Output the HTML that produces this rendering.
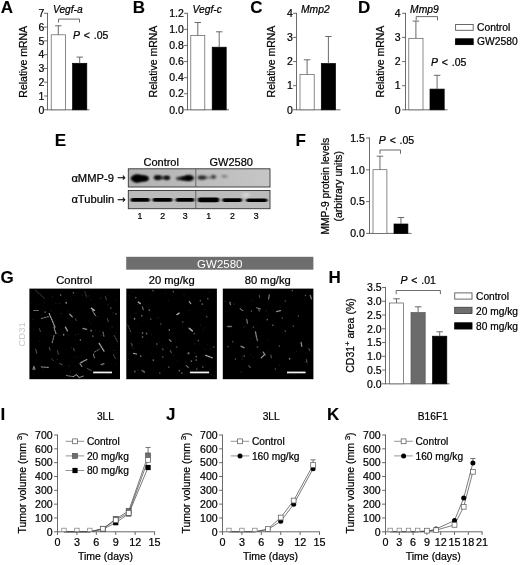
<!DOCTYPE html>
<html lang="en"><head><meta charset="utf-8"><title>Figure</title>
<style>html,body{margin:0;padding:0;background:#fff}svg{display:block}text{font-family:"Liberation Sans",Arial,Helvetica,sans-serif;stroke:#000;stroke-width:.22px}text[font-weight=bold]{stroke-width:.1px}text[fill]{stroke:none}</style></head><body>
<svg width="520" height="565" viewBox="0 0 520 565">
<defs><filter id="b1" x="-30%" y="-80%" width="160%" height="260%"><feGaussianBlur stdDeviation="1.1 0.9"/></filter><filter id="b2" x="-30%" y="-80%" width="160%" height="260%"><feGaussianBlur stdDeviation="1.6 1.2"/></filter><filter id="b3" x="-30%" y="-100%" width="160%" height="300%"><feGaussianBlur stdDeviation="1.0 0.7"/></filter><linearGradient id="g1" x1="0" x2="1" y1="0" y2="0"><stop offset="0" stop-color="#b2b2b2"/><stop offset="0.5" stop-color="#bcbcbc"/><stop offset="1" stop-color="#c6c6c6"/></linearGradient><filter id="s1" x="-50%" y="-50%" width="200%" height="200%"><feGaussianBlur stdDeviation="0.7"/></filter></defs>
<rect width="520" height="565" fill="#fff"/>
<g transform="translate(0,0.3)">
<text x="0.8" y="12.9" font-size="17" font-weight="bold" >A</text>
<text transform="translate(26.98,61.5) rotate(-90)" font-size="10.5" text-anchor="middle">Relative mRNA</text>
<line x1="47.5" y1="12.55" x2="47.5" y2="109.95" stroke="#5a5a5a" stroke-width="0.9" />
<line x1="44.1" y1="109.5" x2="47.5" y2="109.5" stroke="#5a5a5a" stroke-width="0.9" />
<text x="44.3" y="113.28" font-size="10.5" text-anchor="end" >0</text>
<line x1="44.1" y1="95.71" x2="47.5" y2="95.71" stroke="#5a5a5a" stroke-width="0.9" />
<text x="44.3" y="99.49" font-size="10.5" text-anchor="end" >1</text>
<line x1="44.1" y1="81.93" x2="47.5" y2="81.93" stroke="#5a5a5a" stroke-width="0.9" />
<text x="44.3" y="85.71" font-size="10.5" text-anchor="end" >2</text>
<line x1="44.1" y1="68.14" x2="47.5" y2="68.14" stroke="#5a5a5a" stroke-width="0.9" />
<text x="44.3" y="71.92" font-size="10.5" text-anchor="end" >3</text>
<line x1="44.1" y1="54.36" x2="47.5" y2="54.36" stroke="#5a5a5a" stroke-width="0.9" />
<text x="44.3" y="58.14" font-size="10.5" text-anchor="end" >4</text>
<line x1="44.1" y1="40.57" x2="47.5" y2="40.57" stroke="#5a5a5a" stroke-width="0.9" />
<text x="44.3" y="44.35" font-size="10.5" text-anchor="end" >5</text>
<line x1="44.1" y1="26.79" x2="47.5" y2="26.79" stroke="#5a5a5a" stroke-width="0.9" />
<text x="44.3" y="30.57" font-size="10.5" text-anchor="end" >6</text>
<line x1="44.1" y1="13" x2="47.5" y2="13" stroke="#5a5a5a" stroke-width="0.9" />
<text x="44.3" y="16.78" font-size="10.5" text-anchor="end" >7</text>
<line x1="47.5" y1="109.5" x2="89.5" y2="109.5" stroke="#5a5a5a" stroke-width="0.9" />
<rect x="51.2" y="34.5" width="14.2" height="75" fill="#fff" stroke="#5a5a5a" stroke-width="0.7"/>
<line x1="58.3" y1="25.5" x2="58.3" y2="34.5" stroke="#5a5a5a" stroke-width="0.9" />
<line x1="55.05" y1="25.5" x2="61.55" y2="25.5" stroke="#5a5a5a" stroke-width="0.9" />
<rect x="72.6" y="63" width="14.2" height="46.5" fill="#000" stroke="#000" stroke-width="0.7"/>
<line x1="79.7" y1="56.8" x2="79.7" y2="63" stroke="#5a5a5a" stroke-width="0.9" />
<line x1="76.45" y1="56.8" x2="82.95" y2="56.8" stroke="#5a5a5a" stroke-width="0.9" />
<text x="53" y="12.8" font-size="10.2" font-style="italic" >Vegf-a</text>
<polyline points="58.5,22.2 58.5,18.8 79.5,18.8 79.5,22.2" fill="none" stroke="#5a5a5a" stroke-width="0.9"/>
<text x="73" y="38.8" font-size="10.5" word-spacing="0.9"><tspan font-style="italic">P</tspan> &lt; .05</text>
<text x="132.8" y="12.8" font-size="17" font-weight="bold" >B</text>
<text transform="translate(156.98,61.2) rotate(-90)" font-size="10.5" text-anchor="middle">Relative mRNA</text>
<line x1="187.5" y1="12.55" x2="187.5" y2="109.95" stroke="#5a5a5a" stroke-width="0.9" />
<line x1="184.1" y1="109.5" x2="187.5" y2="109.5" stroke="#5a5a5a" stroke-width="0.9" />
<text x="183.8" y="113.28" font-size="10.5" text-anchor="end" >0.0</text>
<line x1="184.1" y1="93.42" x2="187.5" y2="93.42" stroke="#5a5a5a" stroke-width="0.9" />
<text x="183.8" y="97.2" font-size="10.5" text-anchor="end" >0.2</text>
<line x1="184.1" y1="77.33" x2="187.5" y2="77.33" stroke="#5a5a5a" stroke-width="0.9" />
<text x="183.8" y="81.11" font-size="10.5" text-anchor="end" >0.4</text>
<line x1="184.1" y1="61.25" x2="187.5" y2="61.25" stroke="#5a5a5a" stroke-width="0.9" />
<text x="183.8" y="65.03" font-size="10.5" text-anchor="end" >0.6</text>
<line x1="184.1" y1="45.17" x2="187.5" y2="45.17" stroke="#5a5a5a" stroke-width="0.9" />
<text x="183.8" y="48.95" font-size="10.5" text-anchor="end" >0.8</text>
<line x1="184.1" y1="29.08" x2="187.5" y2="29.08" stroke="#5a5a5a" stroke-width="0.9" />
<text x="183.8" y="32.86" font-size="10.5" text-anchor="end" >1.0</text>
<line x1="184.1" y1="13" x2="187.5" y2="13" stroke="#5a5a5a" stroke-width="0.9" />
<text x="183.8" y="16.78" font-size="10.5" text-anchor="end" >1.2</text>
<line x1="187.5" y1="109.5" x2="229" y2="109.5" stroke="#5a5a5a" stroke-width="0.9" />
<rect x="190.8" y="35.2" width="14" height="74.3" fill="#fff" stroke="#5a5a5a" stroke-width="0.7"/>
<line x1="197.8" y1="22.2" x2="197.8" y2="35.2" stroke="#5a5a5a" stroke-width="0.9" />
<line x1="194.55" y1="22.2" x2="201.05" y2="22.2" stroke="#5a5a5a" stroke-width="0.9" />
<rect x="212.2" y="46.9" width="14" height="62.6" fill="#000" stroke="#000" stroke-width="0.7"/>
<line x1="219.2" y1="31.5" x2="219.2" y2="46.9" stroke="#5a5a5a" stroke-width="0.9" />
<line x1="215.95" y1="31.5" x2="222.45" y2="31.5" stroke="#5a5a5a" stroke-width="0.9" />
<text x="192.5" y="12.5" font-size="10.3" font-style="italic" >Vegf-c</text>
<text x="250.2" y="12.8" font-size="17" font-weight="bold" >C</text>
<text transform="translate(274.58,61.2) rotate(-90)" font-size="10.5" text-anchor="middle">Relative mRNA</text>
<line x1="296.5" y1="12.55" x2="296.5" y2="109.95" stroke="#5a5a5a" stroke-width="0.9" />
<line x1="293.1" y1="109.5" x2="296.5" y2="109.5" stroke="#5a5a5a" stroke-width="0.9" />
<text x="292.9" y="113.28" font-size="10.5" text-anchor="end" >0</text>
<line x1="293.1" y1="85.38" x2="296.5" y2="85.38" stroke="#5a5a5a" stroke-width="0.9" />
<text x="292.9" y="89.16" font-size="10.5" text-anchor="end" >1</text>
<line x1="293.1" y1="61.25" x2="296.5" y2="61.25" stroke="#5a5a5a" stroke-width="0.9" />
<text x="292.9" y="65.03" font-size="10.5" text-anchor="end" >2</text>
<line x1="293.1" y1="37.12" x2="296.5" y2="37.12" stroke="#5a5a5a" stroke-width="0.9" />
<text x="292.9" y="40.91" font-size="10.5" text-anchor="end" >3</text>
<line x1="293.1" y1="13" x2="296.5" y2="13" stroke="#5a5a5a" stroke-width="0.9" />
<text x="292.9" y="16.78" font-size="10.5" text-anchor="end" >4</text>
<line x1="296.5" y1="109.5" x2="340.5" y2="109.5" stroke="#5a5a5a" stroke-width="0.9" />
<rect x="300" y="74.2" width="14.2" height="35.3" fill="#fff" stroke="#5a5a5a" stroke-width="0.7"/>
<line x1="307.1" y1="59.5" x2="307.1" y2="74.2" stroke="#5a5a5a" stroke-width="0.9" />
<line x1="303.85" y1="59.5" x2="310.35" y2="59.5" stroke="#5a5a5a" stroke-width="0.9" />
<rect x="321.3" y="63.2" width="14.2" height="46.3" fill="#000" stroke="#000" stroke-width="0.7"/>
<line x1="328.4" y1="36.2" x2="328.4" y2="63.2" stroke="#5a5a5a" stroke-width="0.9" />
<line x1="325.15" y1="36.2" x2="331.65" y2="36.2" stroke="#5a5a5a" stroke-width="0.9" />
<text x="301" y="12.6" font-size="10.3" font-style="italic" >Mmp2</text>
<text x="358.1" y="12.8" font-size="17" font-weight="bold" >D</text>
<text transform="translate(383.98,61.2) rotate(-90)" font-size="10.5" text-anchor="middle">Relative mRNA</text>
<line x1="405.5" y1="12.55" x2="405.5" y2="109.95" stroke="#5a5a5a" stroke-width="0.9" />
<line x1="402.1" y1="109.5" x2="405.5" y2="109.5" stroke="#5a5a5a" stroke-width="0.9" />
<text x="400.7" y="113.28" font-size="10.5" text-anchor="end" >0</text>
<line x1="402.1" y1="85.38" x2="405.5" y2="85.38" stroke="#5a5a5a" stroke-width="0.9" />
<text x="400.7" y="89.16" font-size="10.5" text-anchor="end" >1</text>
<line x1="402.1" y1="61.25" x2="405.5" y2="61.25" stroke="#5a5a5a" stroke-width="0.9" />
<text x="400.7" y="65.03" font-size="10.5" text-anchor="end" >2</text>
<line x1="402.1" y1="37.12" x2="405.5" y2="37.12" stroke="#5a5a5a" stroke-width="0.9" />
<text x="400.7" y="40.91" font-size="10.5" text-anchor="end" >3</text>
<line x1="402.1" y1="13" x2="405.5" y2="13" stroke="#5a5a5a" stroke-width="0.9" />
<text x="400.7" y="16.78" font-size="10.5" text-anchor="end" >4</text>
<line x1="405.5" y1="109.5" x2="447.5" y2="109.5" stroke="#5a5a5a" stroke-width="0.9" />
<rect x="408.8" y="38" width="14.2" height="71.5" fill="#fff" stroke="#5a5a5a" stroke-width="0.7"/>
<line x1="415.9" y1="20.8" x2="415.9" y2="38" stroke="#5a5a5a" stroke-width="0.9" />
<line x1="412.65" y1="20.8" x2="419.15" y2="20.8" stroke="#5a5a5a" stroke-width="0.9" />
<rect x="430" y="88.8" width="14.2" height="20.7" fill="#000" stroke="#000" stroke-width="0.7"/>
<line x1="437.1" y1="75" x2="437.1" y2="88.8" stroke="#5a5a5a" stroke-width="0.9" />
<line x1="433.85" y1="75" x2="440.35" y2="75" stroke="#5a5a5a" stroke-width="0.9" />
<text x="410.1" y="12.4" font-size="10.3" font-style="italic" >Mmp9</text>
<polyline points="416.2,20 416.2,16.3 437.5,16.3 437.5,20" fill="none" stroke="#5a5a5a" stroke-width="0.9"/>
<text x="431" y="66.2" font-size="10.5" word-spacing="0.9"><tspan font-style="italic">P</tspan> &lt; .05</text>
<rect x="455.6" y="24.2" width="17.6" height="5.8" fill="#fff" stroke="#5a5a5a" stroke-width="0.9"/>
<rect x="455.6" y="38.5" width="17.6" height="5.8" fill="#000" stroke="#000" stroke-width="0.9"/>
<text x="477" y="30.6" font-size="10.3" >Control</text>
<text x="477" y="44.7" font-size="10.3" >GW2580</text>
</g>
<text x="54.8" y="146" font-size="17" font-weight="bold" >E</text>
<text x="161.2" y="165.5" font-size="11" text-anchor="middle" >Control</text>
<text x="231.2" y="165.5" font-size="11" text-anchor="middle" >GW2580</text>
<text x="71.4" y="181.7" font-size="11.2">&#945;MMP-9</text>
<text x="117.2" y="181.4" font-size="10" font-family="DejaVu Sans, sans-serif" style="font-family:'DejaVu Sans',sans-serif">&#8594;</text>
<text x="71.4" y="202.9" font-size="11.2">&#945;Tubulin</text>
<text x="117.2" y="203.3" font-size="10" font-family="DejaVu Sans, sans-serif" style="font-family:'DejaVu Sans',sans-serif">&#8594;</text>
<clipPath id="cb1"><rect x="128.3" y="168.8" width="141.7" height="18.2"/></clipPath>
<clipPath id="cb2"><rect x="128.3" y="190.5" width="141.7" height="18.2"/></clipPath>
<rect x="128.3" y="168.8" width="141.7" height="18.2" fill="url(#g1)"/>
<rect x="128.3" y="190.5" width="141.7" height="18.2" fill="#bbb"/>
<g clip-path="url(#cb1)">
<ellipse cx="139.6" cy="178.4" rx="9.0" ry="3.2" fill="#000" opacity="1" filter="url(#b1)"/>
<ellipse cx="137" cy="178.4" rx="5" ry="4.0" fill="#000" opacity="1" filter="url(#b1)"/>
<ellipse cx="144" cy="178.4" rx="4.5" ry="2.6" fill="#000" opacity="0.9" filter="url(#b1)"/>
<ellipse cx="157.6" cy="177.6" rx="3.8" ry="2.3" fill="#000" opacity="1" filter="url(#b1)"/>
<ellipse cx="167" cy="177.8" rx="3.2" ry="2.1" fill="#000" opacity="0.95" filter="url(#b1)"/>
<ellipse cx="162" cy="177.7" rx="7" ry="1.3" fill="#111" opacity="0.9" filter="url(#b1)"/>
<ellipse cx="181.5" cy="178.5" rx="5.5" ry="1.7" fill="#111" opacity="0.95" filter="url(#b1)"/>
<ellipse cx="189" cy="178" rx="5" ry="3.0" fill="#000" opacity="1" filter="url(#b1)"/>
<ellipse cx="186" cy="178.2" rx="5" ry="2.2" fill="#000" opacity="0.8" filter="url(#b1)"/>
<ellipse cx="202" cy="177.6" rx="4.4" ry="2.1" fill="#1a1a1a" opacity="0.95" filter="url(#b1)"/>
<ellipse cx="213.5" cy="176.8" rx="2.7" ry="1.9" fill="#2a2a2a" opacity="0.9" filter="url(#b1)"/>
<ellipse cx="208" cy="177.4" rx="5" ry="1.0" fill="#444" opacity="0.6" filter="url(#b1)"/>
<ellipse cx="224.5" cy="176.2" rx="3" ry="1.5" fill="#555" opacity="0.6" filter="url(#b2)"/>
</g>
<g clip-path="url(#cb2)">
<rect x="130.6" y="198" width="19.2" height="3.8" rx="1.9" fill="#000" filter="url(#b3)"/>
<rect x="152.5" y="198.1" width="20" height="3.6" rx="1.8" fill="#000" filter="url(#b3)"/>
<rect x="175.6" y="198" width="18.8" height="3.8" rx="1.9" fill="#000" filter="url(#b3)"/>
<rect x="197.7" y="197.6" width="21.6" height="4.6" rx="2.3" fill="#000" filter="url(#b3)"/>
<rect x="222.2" y="198.3" width="20" height="3.6" rx="1.8" fill="#000" filter="url(#b3)"/>
<rect x="246.2" y="198.5" width="21.2" height="3.4" rx="1.7" fill="#000" filter="url(#b3)"/>
<ellipse cx="246" cy="195" rx="4" ry="2.5" fill="#fff" opacity=".35" filter="url(#b2)"/>
</g>
<rect x="128.3" y="168.8" width="141.7" height="18.2" fill="none" stroke="#333" stroke-width="0.9"/>
<rect x="128.3" y="190.5" width="141.7" height="18.2" fill="none" stroke="#333" stroke-width="0.9"/>
<line x1="195.8" y1="168.8" x2="195.8" y2="187" stroke="#444" stroke-width="0.7" />
<line x1="195.8" y1="190.5" x2="195.8" y2="208.7" stroke="#444" stroke-width="0.7" />
<text x="140" y="218.9" font-size="8.8" text-anchor="middle" >1</text>
<text x="162.8" y="218.9" font-size="8.8" text-anchor="middle" >2</text>
<text x="185.2" y="218.9" font-size="8.8" text-anchor="middle" >3</text>
<text x="208.8" y="218.9" font-size="8.8" text-anchor="middle" >1</text>
<text x="232.4" y="218.9" font-size="8.8" text-anchor="middle" >2</text>
<text x="256.2" y="218.9" font-size="8.8" text-anchor="middle" >3</text>
<text x="295.6" y="146" font-size="17" font-weight="bold" >F</text>
<text transform="translate(329.41,186.2) rotate(-90)" font-size="10.3" text-anchor="middle">MMP-9 protein levels</text>
<text transform="translate(342.08,186.2) rotate(-90)" font-size="10.5" text-anchor="middle">(arbitrary units)</text>
<line x1="369.5" y1="137.55" x2="369.5" y2="233.85" stroke="#5a5a5a" stroke-width="0.9" />
<line x1="366.1" y1="233.4" x2="369.5" y2="233.4" stroke="#5a5a5a" stroke-width="0.9" />
<text x="364.9" y="237.18" font-size="10.5" text-anchor="end" >0.0</text>
<line x1="366.1" y1="201.6" x2="369.5" y2="201.6" stroke="#5a5a5a" stroke-width="0.9" />
<text x="364.9" y="205.38" font-size="10.5" text-anchor="end" >0.5</text>
<line x1="366.1" y1="169.8" x2="369.5" y2="169.8" stroke="#5a5a5a" stroke-width="0.9" />
<text x="364.9" y="173.58" font-size="10.5" text-anchor="end" >1.0</text>
<line x1="366.1" y1="138" x2="369.5" y2="138" stroke="#5a5a5a" stroke-width="0.9" />
<text x="364.9" y="141.78" font-size="10.5" text-anchor="end" >1.5</text>
<line x1="369.5" y1="233.4" x2="411.5" y2="233.4" stroke="#5a5a5a" stroke-width="0.9" />
<rect x="373" y="169.7" width="13.9" height="63.7" fill="#fff" stroke="#5a5a5a" stroke-width="0.7"/>
<line x1="379.95" y1="156.2" x2="379.95" y2="169.7" stroke="#5a5a5a" stroke-width="0.9" />
<line x1="376.7" y1="156.2" x2="383.2" y2="156.2" stroke="#5a5a5a" stroke-width="0.9" />
<rect x="394" y="224" width="13.9" height="9.4" fill="#000" stroke="#000" stroke-width="0.7"/>
<line x1="400.95" y1="217.5" x2="400.95" y2="224" stroke="#5a5a5a" stroke-width="0.9" />
<line x1="397.7" y1="217.5" x2="404.2" y2="217.5" stroke="#5a5a5a" stroke-width="0.9" />
<polyline points="380,153.8 380,150 400.5,150 400.5,153.8" fill="none" stroke="#5a5a5a" stroke-width="0.9"/>
<text x="378.8" y="144.2" font-size="10.5" word-spacing="0.9"><tspan font-style="italic">P</tspan> &lt; .05</text>
<text x="0.5" y="283.4" font-size="17" font-weight="bold" >G</text>
<rect x="126.2" y="256.8" width="187.2" height="12.9" fill="#6e6e6e"/>
<text x="219.8" y="267.7" font-size="11.5" text-anchor="middle" fill="#fff" >GW2580</text>
<text x="74.2" y="284.4" font-size="11.2" text-anchor="middle" >Control</text>
<text x="171.7" y="284.4" font-size="11.2" text-anchor="middle" >20 mg/kg</text>
<text x="267.8" y="284.4" font-size="11.2" text-anchor="middle" >80 mg/kg</text>
<text transform="translate(25.42,334.4) rotate(-90)" font-size="9.5" text-anchor="middle" fill="#c8c8c8">CD31</text>
<g transform="translate(29.4,288.6)">
<rect width="90.6" height="90.6" fill="#000"/>
<g stroke-linecap="round" filter="url(#s1)">
<circle cx="30.04" cy="15.06" r="0.77" fill="rgb(34,34,34)" stroke="none"/>
<circle cx="10.15" cy="52.47" r="0.65" fill="rgb(30,30,30)" stroke="none"/>
<circle cx="38.21" cy="22.84" r="0.5" fill="rgb(31,31,31)" stroke="none"/>
<circle cx="12.72" cy="21.33" r="0.51" fill="rgb(34,34,34)" stroke="none"/>
<circle cx="52.71" cy="6.29" r="0.77" fill="rgb(21,21,21)" stroke="none"/>
<circle cx="27.08" cy="14.49" r="0.5" fill="rgb(17,17,17)" stroke="none"/>
<circle cx="61.06" cy="10.92" r="0.55" fill="rgb(32,32,32)" stroke="none"/>
<circle cx="49.43" cy="7.44" r="0.53" fill="rgb(15,15,15)" stroke="none"/>
<circle cx="48.05" cy="69.31" r="0.51" fill="rgb(28,28,28)" stroke="none"/>
<circle cx="27.96" cy="70.79" r="0.65" fill="rgb(36,36,36)" stroke="none"/>
<circle cx="28" cy="44.88" r="0.61" fill="rgb(24,24,24)" stroke="none"/>
<circle cx="86.88" cy="12.22" r="0.68" fill="rgb(27,27,27)" stroke="none"/>
<circle cx="82.82" cy="38.52" r="0.75" fill="rgb(35,35,35)" stroke="none"/>
<circle cx="70.34" cy="72.87" r="0.59" fill="rgb(24,24,24)" stroke="none"/>
<circle cx="52.22" cy="41.51" r="0.76" fill="rgb(16,16,16)" stroke="none"/>
<circle cx="59.52" cy="7.25" r="0.58" fill="rgb(36,36,36)" stroke="none"/>
<circle cx="61" cy="40.59" r="0.53" fill="rgb(36,36,36)" stroke="none"/>
<circle cx="3.95" cy="41.98" r="0.53" fill="rgb(19,19,19)" stroke="none"/>
<circle cx="20.9" cy="26.89" r="0.52" fill="rgb(21,21,21)" stroke="none"/>
<circle cx="45" cy="16.41" r="0.48" fill="rgb(26,26,26)" stroke="none"/>
<circle cx="72.95" cy="76.82" r="0.59" fill="rgb(22,22,22)" stroke="none"/>
<circle cx="61.12" cy="34.95" r="0.69" fill="rgb(21,21,21)" stroke="none"/>
<circle cx="22.09" cy="22.21" r="0.68" fill="rgb(29,29,29)" stroke="none"/>
<circle cx="26.42" cy="14.62" r="0.54" fill="rgb(31,31,31)" stroke="none"/>
<circle cx="84.54" cy="61.8" r="0.77" fill="rgb(30,30,30)" stroke="none"/>
<circle cx="66.07" cy="41.55" r="0.66" fill="rgb(35,35,35)" stroke="none"/>
<circle cx="36.55" cy="10.97" r="0.52" fill="rgb(34,34,34)" stroke="none"/>
<circle cx="87.27" cy="40.16" r="0.56" fill="rgb(17,17,17)" stroke="none"/>
<circle cx="2.02" cy="15.1" r="0.76" fill="rgb(17,17,17)" stroke="none"/>
<circle cx="8.09" cy="20.01" r="0.7" fill="rgb(26,26,26)" stroke="none"/>
<circle cx="32.08" cy="33.54" r="0.72" fill="rgb(17,17,17)" stroke="none"/>
<circle cx="86.68" cy="43.6" r="0.74" fill="rgb(23,23,23)" stroke="none"/>
<circle cx="31.67" cy="24.93" r="0.69" fill="rgb(36,36,36)" stroke="none"/>
<circle cx="84.36" cy="47.75" r="0.58" fill="rgb(18,18,18)" stroke="none"/>
<circle cx="67.66" cy="27.81" r="0.7" fill="rgb(34,34,34)" stroke="none"/>
<circle cx="24.61" cy="33.76" r="0.55" fill="rgb(19,19,19)" stroke="none"/>
<circle cx="48.9" cy="45.53" r="0.64" fill="rgb(34,34,34)" stroke="none"/>
<circle cx="87.29" cy="75.84" r="0.67" fill="rgb(21,21,21)" stroke="none"/>
<circle cx="21.64" cy="46.83" r="0.61" fill="rgb(25,25,25)" stroke="none"/>
<circle cx="70.42" cy="42.9" r="0.58" fill="rgb(20,20,20)" stroke="none"/>
<circle cx="40.73" cy="83.15" r="0.77" fill="rgb(25,25,25)" stroke="none"/>
<circle cx="21.09" cy="21.64" r="0.56" fill="rgb(20,20,20)" stroke="none"/>
<circle cx="87.32" cy="54.85" r="0.46" fill="rgb(14,14,14)" stroke="none"/>
<circle cx="71.25" cy="9.34" r="0.72" fill="rgb(35,35,35)" stroke="none"/>
<circle cx="63.62" cy="19.26" r="0.5" fill="rgb(19,19,19)" stroke="none"/>
<circle cx="9.51" cy="83.94" r="0.48" fill="rgb(26,26,26)" stroke="none"/>
<circle cx="9.35" cy="15.76" r="0.78" fill="rgb(18,18,18)" stroke="none"/>
<circle cx="42.3" cy="58.8" r="0.68" fill="rgb(33,33,33)" stroke="none"/>
<circle cx="58.92" cy="32.35" r="0.48" fill="rgb(31,31,31)" stroke="none"/>
<circle cx="71.22" cy="64.9" r="0.47" fill="rgb(17,17,17)" stroke="none"/>
<circle cx="39.57" cy="77.49" r="0.78" fill="rgb(20,20,20)" stroke="none"/>
<circle cx="45.4" cy="68.13" r="0.62" fill="rgb(24,24,24)" stroke="none"/>
<circle cx="13.35" cy="80.81" r="0.73" fill="rgb(25,25,25)" stroke="none"/>
<circle cx="72.58" cy="46.75" r="0.71" fill="rgb(30,30,30)" stroke="none"/>
<circle cx="46.21" cy="77.58" r="0.53" fill="rgb(19,19,19)" stroke="none"/>
<circle cx="14.97" cy="14.26" r="0.61" fill="rgb(33,33,33)" stroke="none"/>
<circle cx="30.23" cy="46.89" r="0.46" fill="rgb(31,31,31)" stroke="none"/>
<circle cx="78.49" cy="6.92" r="0.61" fill="rgb(20,20,20)" stroke="none"/>
<circle cx="45.97" cy="50.65" r="0.49" fill="rgb(16,16,16)" stroke="none"/>
<circle cx="45.78" cy="46.35" r="0.61" fill="rgb(36,36,36)" stroke="none"/>
<circle cx="71.92" cy="45.97" r="0.59" fill="rgb(21,21,21)" stroke="none"/>
<circle cx="83.59" cy="24.48" r="0.72" fill="rgb(31,31,31)" stroke="none"/>
<circle cx="40.76" cy="38.08" r="0.49" fill="rgb(26,26,26)" stroke="none"/>
<circle cx="22.84" cy="8.33" r="0.59" fill="rgb(35,35,35)" stroke="none"/>
<circle cx="69.28" cy="83.36" r="0.56" fill="rgb(34,34,34)" stroke="none"/>
<circle cx="78.45" cy="85.79" r="0.62" fill="rgb(21,21,21)" stroke="none"/>
<circle cx="78.64" cy="16.1" r="0.68" fill="rgb(35,35,35)" stroke="none"/>
<circle cx="39.37" cy="46.65" r="0.51" fill="rgb(24,24,24)" stroke="none"/>
<circle cx="9.98" cy="33.69" r="0.49" fill="rgb(24,24,24)" stroke="none"/>
<circle cx="3.57" cy="30.71" r="0.59" fill="rgb(33,33,33)" stroke="none"/>
<line x1="6.3" y1="1.9" x2="15" y2="9.6" stroke="rgb(86,86,86)" stroke-width="0.8" stroke-dasharray="1.7 1.1"/>
<line x1="19.8" y1="25" x2="25.6" y2="38.5" stroke="rgb(169,169,169)" stroke-width="1.15" stroke-dasharray="1.7 1.1"/>
<line x1="24.6" y1="38.5" x2="26.5" y2="45" stroke="rgb(154,154,154)" stroke-width="1.15" stroke-dasharray="1.7 1.1"/>
<line x1="24.6" y1="47" x2="22.7" y2="54.8" stroke="rgb(139,139,139)" stroke-width="1.03" stroke-dasharray="1.7 1.1"/>
<line x1="12" y1="29.8" x2="19.8" y2="27.9" stroke="rgb(124,124,124)" stroke-width="1.03" stroke-dasharray="1.7 1.1"/>
<line x1="4.4" y1="22" x2="9.2" y2="22" stroke="rgb(124,124,124)" stroke-width="1.03" stroke-dasharray="1.7 1.1"/>
<ellipse cx="36.75" cy="14.25" rx="0.79" ry="1.06" fill="rgb(139,139,139)" stroke="none"/>
<line x1="40.4" y1="25.6" x2="42.9" y2="28.3" stroke="rgb(154,154,154)" stroke-width="1.26"/>
<line x1="36" y1="38.5" x2="38" y2="42.3" stroke="rgb(154,154,154)" stroke-width="1.26"/>
<ellipse cx="34.25" cy="46.15" rx="0.79" ry="0.99" fill="rgb(124,124,124)" stroke="none"/>
<line x1="62" y1="19.8" x2="65" y2="21.7" stroke="rgb(176,176,176)" stroke-width="1.49"/>
<line x1="63" y1="22" x2="66" y2="27" stroke="rgb(139,139,139)" stroke-width="1.03" stroke-dasharray="1.7 1.1"/>
<line x1="53.5" y1="39.8" x2="57.3" y2="40.8" stroke="rgb(139,139,139)" stroke-width="1.26"/>
<ellipse cx="61.75" cy="42.15" rx="0.79" ry="1.04" fill="rgb(124,124,124)" stroke="none"/>
<line x1="73.6" y1="43.3" x2="74.6" y2="48" stroke="rgb(124,124,124)" stroke-width="1.03" stroke-dasharray="1.7 1.1"/>
<line x1="69.8" y1="54.8" x2="74.6" y2="62.5" stroke="rgb(169,169,169)" stroke-width="1.26" stroke-dasharray="1.7 1.1"/>
<line x1="65" y1="63.5" x2="69.8" y2="60.6" stroke="rgb(124,124,124)" stroke-width="0.92" stroke-dasharray="1.7 1.1"/>
<line x1="64" y1="65.4" x2="65" y2="69.2" stroke="rgb(124,124,124)" stroke-width="1.03"/>
<line x1="51.5" y1="74" x2="57.3" y2="71" stroke="rgb(161,161,161)" stroke-width="1.26" stroke-dasharray="1.7 1.1"/>
<line x1="50.6" y1="75" x2="52.5" y2="77.9" stroke="rgb(139,139,139)" stroke-width="1.15"/>
<line x1="12" y1="78.3" x2="18.8" y2="78.8" stroke="rgb(139,139,139)" stroke-width="1.15" stroke-dasharray="1.7 1.1"/>
<line x1="3.5" y1="80.5" x2="4.5" y2="78" stroke="rgb(139,139,139)" stroke-width="1.03"/>
<line x1="4.5" y1="78" x2="5.6" y2="80.6" stroke="rgb(139,139,139)" stroke-width="1.03"/>
<ellipse cx="4.55" cy="80.6" rx="0.67" ry="0.94" fill="rgb(124,124,124)" stroke="none"/>
<line x1="37" y1="87" x2="44" y2="88" stroke="rgb(124,124,124)" stroke-width="1.03" stroke-dasharray="1.7 1.1"/>
<line x1="44" y1="88" x2="47" y2="86" stroke="rgb(139,139,139)" stroke-width="1.03"/>
<line x1="47" y1="86" x2="50" y2="89" stroke="rgb(139,139,139)" stroke-width="1.03"/>
<line x1="50" y1="89" x2="54" y2="87.5" stroke="rgb(124,124,124)" stroke-width="1.03"/>
<line x1="71.7" y1="76" x2="74.6" y2="75" stroke="rgb(124,124,124)" stroke-width="1.15"/>
<line x1="85" y1="47" x2="88" y2="53" stroke="rgb(86,86,86)" stroke-width="0.92" stroke-dasharray="1.7 1.1"/>
<ellipse cx="86.5" cy="25.25" rx="0.75" ry="0.97" fill="rgb(94,94,94)" stroke="none"/>
<ellipse cx="81.5" cy="19.5" rx="0.75" ry="0.91" fill="rgb(86,86,86)" stroke="none"/>
<line x1="55.4" y1="2.9" x2="57.3" y2="8.6" stroke="rgb(79,79,79)" stroke-width="0.8" stroke-dasharray="1.7 1.1"/>
<ellipse cx="44" cy="4.25" rx="0.75" ry="0.97" fill="rgb(94,94,94)" stroke="none"/>
<ellipse cx="31.25" cy="6.4" rx="0.75" ry="0.95" fill="rgb(94,94,94)" stroke="none"/>
<ellipse cx="51" cy="51.5" rx="0.75" ry="0.91" fill="rgb(109,109,109)" stroke="none"/>
<ellipse cx="63.5" cy="47.5" rx="0.75" ry="0.91" fill="rgb(109,109,109)" stroke="none"/>
<line x1="6.3" y1="60.6" x2="7.3" y2="64.4" stroke="rgb(86,86,86)" stroke-width="1.03"/>
<line x1="19.8" y1="58.7" x2="20.8" y2="61.5" stroke="rgb(86,86,86)" stroke-width="1.03"/>
<ellipse cx="15.75" cy="23.5" rx="0.75" ry="0.97" fill="rgb(109,109,109)" stroke="none"/>
<line x1="28" y1="62" x2="29" y2="66" stroke="rgb(79,79,79)" stroke-width="0.92"/>
<line x1="44" y1="60" x2="45" y2="62" stroke="rgb(86,86,86)" stroke-width="1.03"/>
<line x1="78" y1="30" x2="79" y2="33" stroke="rgb(86,86,86)" stroke-width="0.92"/>
<line x1="58" y1="80" x2="62" y2="82" stroke="rgb(94,94,94)" stroke-width="0.92"/>
<line x1="10" y1="40" x2="11" y2="43" stroke="rgb(79,79,79)" stroke-width="0.92"/>
<line x1="30" y1="75" x2="33" y2="76" stroke="rgb(86,86,86)" stroke-width="0.92"/>
<line x1="84" y1="66" x2="86" y2="70" stroke="rgb(79,79,79)" stroke-width="0.92"/>
<line x1="76" y1="8" x2="77" y2="11" stroke="rgb(79,79,79)" stroke-width="0.92"/>
<line x1="22" y1="70" x2="24" y2="72" stroke="rgb(79,79,79)" stroke-width="0.92"/>
<line x1="46" y1="30" x2="47" y2="32" stroke="rgb(79,79,79)" stroke-width="0.92"/>
</g>
<rect x="63.8" y="83.0" width="18.8" height="1.7" fill="#f4f4f4"/>
</g>
<g transform="translate(126.3,288.6)">
<rect width="90.6" height="90.6" fill="#000"/>
<g stroke-linecap="round" filter="url(#s1)">
<circle cx="11.77" cy="81.55" r="0.78" fill="rgb(21,21,21)" stroke="none"/>
<circle cx="25" cy="5.43" r="0.61" fill="rgb(19,19,19)" stroke="none"/>
<circle cx="38.57" cy="80.93" r="0.52" fill="rgb(22,22,22)" stroke="none"/>
<circle cx="46.58" cy="44.83" r="0.74" fill="rgb(24,24,24)" stroke="none"/>
<circle cx="61.6" cy="38.83" r="0.61" fill="rgb(16,16,16)" stroke="none"/>
<circle cx="9.67" cy="24.56" r="0.7" fill="rgb(33,33,33)" stroke="none"/>
<circle cx="76.72" cy="41.3" r="0.8" fill="rgb(24,24,24)" stroke="none"/>
<circle cx="81.28" cy="55.84" r="0.47" fill="rgb(15,15,15)" stroke="none"/>
<circle cx="11.48" cy="15.98" r="0.67" fill="rgb(15,15,15)" stroke="none"/>
<circle cx="56.44" cy="47.99" r="0.6" fill="rgb(20,20,20)" stroke="none"/>
<circle cx="17.41" cy="32.05" r="0.8" fill="rgb(14,14,14)" stroke="none"/>
<circle cx="3.6" cy="45.79" r="0.46" fill="rgb(20,20,20)" stroke="none"/>
<circle cx="40.72" cy="59.01" r="0.5" fill="rgb(34,34,34)" stroke="none"/>
<circle cx="74.28" cy="36.04" r="0.58" fill="rgb(30,30,30)" stroke="none"/>
<circle cx="21.88" cy="19.2" r="0.61" fill="rgb(36,36,36)" stroke="none"/>
<circle cx="87.69" cy="87.03" r="0.79" fill="rgb(18,18,18)" stroke="none"/>
<circle cx="78.2" cy="39.3" r="0.74" fill="rgb(15,15,15)" stroke="none"/>
<circle cx="77.39" cy="60.07" r="0.52" fill="rgb(23,23,23)" stroke="none"/>
<circle cx="5.92" cy="18.05" r="0.49" fill="rgb(22,22,22)" stroke="none"/>
<circle cx="85.29" cy="86.23" r="0.57" fill="rgb(31,31,31)" stroke="none"/>
<circle cx="78.41" cy="20.87" r="0.8" fill="rgb(19,19,19)" stroke="none"/>
<circle cx="43.1" cy="45.54" r="0.63" fill="rgb(20,20,20)" stroke="none"/>
<circle cx="9.87" cy="72.76" r="0.52" fill="rgb(18,18,18)" stroke="none"/>
<circle cx="3.95" cy="28.35" r="0.74" fill="rgb(21,21,21)" stroke="none"/>
<circle cx="75.89" cy="15.44" r="0.65" fill="rgb(36,36,36)" stroke="none"/>
<circle cx="68.19" cy="64.41" r="0.7" fill="rgb(29,29,29)" stroke="none"/>
<circle cx="57.7" cy="5.79" r="0.72" fill="rgb(36,36,36)" stroke="none"/>
<circle cx="65.55" cy="72.34" r="0.74" fill="rgb(18,18,18)" stroke="none"/>
<circle cx="51.23" cy="72.4" r="0.68" fill="rgb(14,14,14)" stroke="none"/>
<circle cx="79.32" cy="61.14" r="0.55" fill="rgb(36,36,36)" stroke="none"/>
<circle cx="5.63" cy="57.17" r="0.54" fill="rgb(17,17,17)" stroke="none"/>
<circle cx="6.4" cy="3.63" r="0.58" fill="rgb(31,31,31)" stroke="none"/>
<circle cx="2.29" cy="71.08" r="0.73" fill="rgb(30,30,30)" stroke="none"/>
<circle cx="47.55" cy="66.58" r="0.62" fill="rgb(29,29,29)" stroke="none"/>
<circle cx="25" cy="65.16" r="0.64" fill="rgb(20,20,20)" stroke="none"/>
<circle cx="41.87" cy="75.22" r="0.46" fill="rgb(16,16,16)" stroke="none"/>
<circle cx="68.42" cy="55.43" r="0.66" fill="rgb(34,34,34)" stroke="none"/>
<circle cx="30.73" cy="58.42" r="0.59" fill="rgb(36,36,36)" stroke="none"/>
<circle cx="3.08" cy="7.25" r="0.78" fill="rgb(22,22,22)" stroke="none"/>
<circle cx="20.85" cy="44.4" r="0.46" fill="rgb(36,36,36)" stroke="none"/>
<circle cx="42.38" cy="12.26" r="0.66" fill="rgb(31,31,31)" stroke="none"/>
<circle cx="83.08" cy="3.52" r="0.75" fill="rgb(28,28,28)" stroke="none"/>
<circle cx="88.13" cy="88.08" r="0.65" fill="rgb(26,26,26)" stroke="none"/>
<circle cx="20.25" cy="52.36" r="0.62" fill="rgb(18,18,18)" stroke="none"/>
<circle cx="33.14" cy="54.25" r="0.46" fill="rgb(34,34,34)" stroke="none"/>
<circle cx="62.91" cy="22.04" r="0.52" fill="rgb(29,29,29)" stroke="none"/>
<circle cx="84.27" cy="61.03" r="0.59" fill="rgb(26,26,26)" stroke="none"/>
<circle cx="31.79" cy="29.37" r="0.8" fill="rgb(24,24,24)" stroke="none"/>
<circle cx="74.67" cy="12.4" r="0.6" fill="rgb(20,20,20)" stroke="none"/>
<circle cx="27.1" cy="34.23" r="0.53" fill="rgb(26,26,26)" stroke="none"/>
<circle cx="8.62" cy="82.14" r="0.7" fill="rgb(22,22,22)" stroke="none"/>
<circle cx="6.47" cy="59.33" r="0.75" fill="rgb(34,34,34)" stroke="none"/>
<circle cx="25.01" cy="46.25" r="0.64" fill="rgb(20,20,20)" stroke="none"/>
<circle cx="39.04" cy="4.51" r="0.52" fill="rgb(34,34,34)" stroke="none"/>
<circle cx="49.99" cy="19.62" r="0.77" fill="rgb(16,16,16)" stroke="none"/>
<line x1="12" y1="13.5" x2="14" y2="15" stroke="rgb(161,161,161)" stroke-width="1.38"/>
<ellipse cx="9.5" cy="9" rx="0.75" ry="0.91" fill="rgb(94,94,94)" stroke="none"/>
<line x1="16" y1="18.3" x2="17" y2="21" stroke="rgb(116,116,116)" stroke-width="1.15"/>
<ellipse cx="23" cy="21.5" rx="0.79" ry="0.95" fill="rgb(109,109,109)" stroke="none"/>
<ellipse cx="8.25" cy="30.1" rx="0.79" ry="1.04" fill="rgb(139,139,139)" stroke="none"/>
<ellipse cx="15.5" cy="27.15" rx="0.75" ry="0.88" fill="rgb(109,109,109)" stroke="none"/>
<line x1="50.6" y1="26" x2="52.9" y2="24.6" stroke="rgb(169,169,169)" stroke-width="1.38"/>
<line x1="63" y1="12.9" x2="64.4" y2="15" stroke="rgb(154,154,154)" stroke-width="1.26"/>
<ellipse cx="74" cy="12" rx="0.75" ry="0.91" fill="rgb(94,94,94)" stroke="none"/>
<ellipse cx="81.5" cy="10" rx="0.75" ry="0.91" fill="rgb(94,94,94)" stroke="none"/>
<ellipse cx="76" cy="15.5" rx="0.75" ry="0.91" fill="rgb(101,101,101)" stroke="none"/>
<ellipse cx="80.5" cy="28" rx="0.75" ry="0.91" fill="rgb(86,86,86)" stroke="none"/>
<ellipse cx="43" cy="41.5" rx="0.83" ry="0.99" fill="rgb(109,109,109)" stroke="none"/>
<line x1="63" y1="39.8" x2="66" y2="42.3" stroke="rgb(169,169,169)" stroke-width="1.49"/>
<ellipse cx="68" cy="45" rx="0.75" ry="0.91" fill="rgb(94,94,94)" stroke="none"/>
<line x1="42.9" y1="51" x2="44.8" y2="52.9" stroke="rgb(124,124,124)" stroke-width="1.15"/>
<ellipse cx="16.25" cy="44.5" rx="0.83" ry="1.05" fill="rgb(94,94,94)" stroke="none"/>
<ellipse cx="20.25" cy="45" rx="0.83" ry="1.05" fill="rgb(94,94,94)" stroke="none"/>
<ellipse cx="16.25" cy="48.5" rx="0.83" ry="1.05" fill="rgb(86,86,86)" stroke="none"/>
<ellipse cx="72" cy="52" rx="0.75" ry="0.91" fill="rgb(94,94,94)" stroke="none"/>
<line x1="7.3" y1="64.8" x2="10.2" y2="65.4" stroke="rgb(154,154,154)" stroke-width="1.26"/>
<ellipse cx="14.5" cy="67.5" rx="0.79" ry="0.95" fill="rgb(124,124,124)" stroke="none"/>
<ellipse cx="62.25" cy="64.75" rx="0.99" ry="1.26" fill="rgb(101,101,101)" stroke="none"/>
<line x1="79.4" y1="66.7" x2="86" y2="69.2" stroke="rgb(169,169,169)" stroke-width="1.26" stroke-dasharray="1.7 1.1"/>
<ellipse cx="70" cy="68" rx="0.79" ry="0.95" fill="rgb(109,109,109)" stroke="none"/>
<ellipse cx="27" cy="71.5" rx="0.79" ry="0.95" fill="rgb(116,116,116)" stroke="none"/>
<ellipse cx="36.5" cy="68.5" rx="0.79" ry="0.95" fill="rgb(86,86,86)" stroke="none"/>
<ellipse cx="65" cy="72.5" rx="0.75" ry="0.91" fill="rgb(109,109,109)" stroke="none"/>
<ellipse cx="70" cy="71.5" rx="0.75" ry="0.91" fill="rgb(101,101,101)" stroke="none"/>
<line x1="60" y1="77" x2="62" y2="78.8" stroke="rgb(124,124,124)" stroke-width="1.15"/>
<ellipse cx="42.5" cy="78.5" rx="0.75" ry="0.91" fill="rgb(86,86,86)" stroke="none"/>
<ellipse cx="53" cy="82" rx="0.75" ry="0.91" fill="rgb(109,109,109)" stroke="none"/>
<ellipse cx="55.5" cy="84.5" rx="0.75" ry="0.91" fill="rgb(101,101,101)" stroke="none"/>
<line x1="16" y1="82" x2="18" y2="83.5" stroke="rgb(86,86,86)" stroke-width="1.84"/>
<ellipse cx="8.5" cy="83" rx="0.83" ry="0.99" fill="rgb(86,86,86)" stroke="none"/>
<line x1="1.5" y1="36.5" x2="4.4" y2="43.3" stroke="rgb(79,79,79)" stroke-width="0.92" stroke-dasharray="1.7 1.1"/>
<ellipse cx="47" cy="3" rx="0.75" ry="0.91" fill="rgb(86,86,86)" stroke="none"/>
<ellipse cx="26.75" cy="2" rx="0.75" ry="0.97" fill="rgb(86,86,86)" stroke="none"/>
<ellipse cx="34.5" cy="35.5" rx="0.75" ry="0.91" fill="rgb(79,79,79)" stroke="none"/>
<ellipse cx="30.5" cy="55.5" rx="0.83" ry="0.99" fill="rgb(79,79,79)" stroke="none"/>
<ellipse cx="36.5" cy="60.75" rx="0.83" ry="1.05" fill="rgb(79,79,79)" stroke="none"/>
<ellipse cx="50.5" cy="58.5" rx="0.75" ry="0.91" fill="rgb(79,79,79)" stroke="none"/>
<ellipse cx="24.5" cy="30.5" rx="0.75" ry="0.91" fill="rgb(79,79,79)" stroke="none"/>
<ellipse cx="56.5" cy="33.5" rx="0.75" ry="0.91" fill="rgb(79,79,79)" stroke="none"/>
<line x1="44" y1="62" x2="45" y2="64" stroke="rgb(86,86,86)" stroke-width="1.15"/>
<ellipse cx="76.5" cy="78.5" rx="0.75" ry="0.91" fill="rgb(94,94,94)" stroke="none"/>
<ellipse cx="70.5" cy="80.5" rx="0.75" ry="0.91" fill="rgb(86,86,86)" stroke="none"/>
<ellipse cx="33.5" cy="84.5" rx="0.75" ry="0.91" fill="rgb(79,79,79)" stroke="none"/>
<ellipse cx="87.5" cy="58.5" rx="0.75" ry="0.91" fill="rgb(79,79,79)" stroke="none"/>
<line x1="5" y1="55" x2="6" y2="57" stroke="rgb(79,79,79)" stroke-width="1.15"/>
</g>
<rect x="63.6" y="83.0" width="19.2" height="1.7" fill="#f4f4f4"/>
</g>
<g transform="translate(222.8,288.6)">
<rect width="90.6" height="90.6" fill="#000"/>
<g stroke-linecap="round" filter="url(#s1)">
<circle cx="41.04" cy="67.18" r="0.71" fill="rgb(34,34,34)" stroke="none"/>
<circle cx="80.97" cy="49.64" r="0.47" fill="rgb(19,19,19)" stroke="none"/>
<circle cx="27.79" cy="66" r="0.62" fill="rgb(34,34,34)" stroke="none"/>
<circle cx="28.05" cy="50.26" r="0.72" fill="rgb(26,26,26)" stroke="none"/>
<circle cx="8.51" cy="45.35" r="0.49" fill="rgb(29,29,29)" stroke="none"/>
<circle cx="30.82" cy="67.75" r="0.7" fill="rgb(27,27,27)" stroke="none"/>
<circle cx="9.86" cy="31.61" r="0.58" fill="rgb(16,16,16)" stroke="none"/>
<circle cx="72.09" cy="19.51" r="0.62" fill="rgb(14,14,14)" stroke="none"/>
<circle cx="37.84" cy="47.39" r="0.61" fill="rgb(26,26,26)" stroke="none"/>
<circle cx="45.14" cy="51.73" r="0.71" fill="rgb(25,25,25)" stroke="none"/>
<circle cx="56.53" cy="76.72" r="0.74" fill="rgb(20,20,20)" stroke="none"/>
<circle cx="35.3" cy="57.93" r="0.77" fill="rgb(27,27,27)" stroke="none"/>
<circle cx="77.59" cy="3.89" r="0.5" fill="rgb(15,15,15)" stroke="none"/>
<circle cx="71.65" cy="85.85" r="0.8" fill="rgb(29,29,29)" stroke="none"/>
<circle cx="82.26" cy="73.5" r="0.78" fill="rgb(28,28,28)" stroke="none"/>
<circle cx="11.44" cy="15.37" r="0.78" fill="rgb(30,30,30)" stroke="none"/>
<circle cx="73.48" cy="62.71" r="0.74" fill="rgb(28,28,28)" stroke="none"/>
<circle cx="2.12" cy="12.88" r="0.74" fill="rgb(32,32,32)" stroke="none"/>
<circle cx="28.31" cy="13.08" r="0.47" fill="rgb(22,22,22)" stroke="none"/>
<circle cx="68.15" cy="10.61" r="0.47" fill="rgb(23,23,23)" stroke="none"/>
<circle cx="35.61" cy="21.36" r="0.8" fill="rgb(33,33,33)" stroke="none"/>
<circle cx="88.29" cy="26.13" r="0.55" fill="rgb(24,24,24)" stroke="none"/>
<circle cx="43.16" cy="22.33" r="0.78" fill="rgb(21,21,21)" stroke="none"/>
<circle cx="58.26" cy="6.79" r="0.45" fill="rgb(20,20,20)" stroke="none"/>
<circle cx="38.37" cy="24.28" r="0.5" fill="rgb(35,35,35)" stroke="none"/>
<circle cx="44.69" cy="62.26" r="0.51" fill="rgb(36,36,36)" stroke="none"/>
<circle cx="19.15" cy="71.03" r="0.75" fill="rgb(30,30,30)" stroke="none"/>
<circle cx="19.36" cy="68.32" r="0.64" fill="rgb(20,20,20)" stroke="none"/>
<circle cx="67.86" cy="27.54" r="0.45" fill="rgb(33,33,33)" stroke="none"/>
<circle cx="21.34" cy="38.11" r="0.76" fill="rgb(35,35,35)" stroke="none"/>
<circle cx="81.84" cy="6.71" r="0.78" fill="rgb(14,14,14)" stroke="none"/>
<circle cx="6.49" cy="7.21" r="0.49" fill="rgb(26,26,26)" stroke="none"/>
<circle cx="29.21" cy="11.8" r="0.75" fill="rgb(16,16,16)" stroke="none"/>
<circle cx="18.07" cy="83.05" r="0.78" fill="rgb(28,28,28)" stroke="none"/>
<circle cx="34.79" cy="34.38" r="0.49" fill="rgb(24,24,24)" stroke="none"/>
<line x1="7.1" y1="13.5" x2="7.7" y2="16" stroke="rgb(124,124,124)" stroke-width="1.26"/>
<line x1="46.5" y1="6.3" x2="45.8" y2="10.6" stroke="rgb(124,124,124)" stroke-width="1.15"/>
<line x1="36.5" y1="6.7" x2="37" y2="9" stroke="rgb(79,79,79)" stroke-width="1.03"/>
<line x1="87.5" y1="6.7" x2="88.5" y2="10.2" stroke="rgb(131,131,131)" stroke-width="1.26"/>
<ellipse cx="82.75" cy="6.75" rx="0.71" ry="0.95" fill="rgb(79,79,79)" stroke="none"/>
<line x1="17.3" y1="20" x2="20" y2="22" stroke="rgb(124,124,124)" stroke-width="1.15"/>
<line x1="33.7" y1="19.2" x2="37.5" y2="20.2" stroke="rgb(124,124,124)" stroke-width="1.15"/>
<line x1="36" y1="20.2" x2="36.5" y2="22.5" stroke="rgb(109,109,109)" stroke-width="1.03"/>
<line x1="53.8" y1="23" x2="57.7" y2="22" stroke="rgb(139,139,139)" stroke-width="1.26"/>
<line x1="24" y1="30.8" x2="24.6" y2="34.6" stroke="rgb(124,124,124)" stroke-width="1.15"/>
<ellipse cx="44.5" cy="31" rx="0.79" ry="0.95" fill="rgb(101,101,101)" stroke="none"/>
<line x1="4.8" y1="37.9" x2="8.7" y2="37.9" stroke="rgb(109,109,109)" stroke-width="1.38"/>
<ellipse cx="50" cy="36.75" rx="0.79" ry="1.01" fill="rgb(86,86,86)" stroke="none"/>
<line x1="32.7" y1="43.3" x2="33.6" y2="48" stroke="rgb(139,139,139)" stroke-width="1.26" stroke-dasharray="1.7 1.1"/>
<line x1="33.6" y1="48" x2="34.6" y2="52" stroke="rgb(124,124,124)" stroke-width="1.15"/>
<ellipse cx="62.5" cy="42.5" rx="0.79" ry="0.95" fill="rgb(86,86,86)" stroke="none"/>
<line x1="18.3" y1="57.7" x2="21.2" y2="59" stroke="rgb(139,139,139)" stroke-width="1.38"/>
<line x1="78.3" y1="53.8" x2="79" y2="57.7" stroke="rgb(139,139,139)" stroke-width="1.26"/>
<line x1="38.5" y1="69.2" x2="42.3" y2="65.4" stroke="rgb(154,154,154)" stroke-width="1.26" stroke-dasharray="1.7 1.1"/>
<line x1="40.4" y1="63.5" x2="42.3" y2="66.3" stroke="rgb(139,139,139)" stroke-width="1.15"/>
<line x1="48" y1="66.3" x2="48.6" y2="69.2" stroke="rgb(86,86,86)" stroke-width="1.03"/>
<ellipse cx="66.8" cy="70.1" rx="0.79" ry="1.05" fill="rgb(124,124,124)" stroke="none"/>
<line x1="83.6" y1="71" x2="84.2" y2="74" stroke="rgb(86,86,86)" stroke-width="1.03"/>
<line x1="26" y1="77" x2="27.5" y2="79" stroke="rgb(86,86,86)" stroke-width="1.15"/>
<ellipse cx="21.5" cy="67.5" rx="0.79" ry="0.95" fill="rgb(86,86,86)" stroke="none"/>
<ellipse cx="10" cy="53" rx="0.79" ry="0.95" fill="rgb(79,79,79)" stroke="none"/>
<ellipse cx="5.3" cy="58" rx="0.79" ry="0.95" fill="rgb(79,79,79)" stroke="none"/>
<ellipse cx="69.5" cy="2" rx="0.75" ry="0.91" fill="rgb(86,86,86)" stroke="none"/>
<ellipse cx="28.5" cy="22.5" rx="0.75" ry="0.91" fill="rgb(79,79,79)" stroke="none"/>
<ellipse cx="59.5" cy="29.5" rx="0.75" ry="0.91" fill="rgb(79,79,79)" stroke="none"/>
<ellipse cx="70.5" cy="37.5" rx="0.75" ry="0.91" fill="rgb(79,79,79)" stroke="none"/>
<ellipse cx="12.5" cy="70.5" rx="0.75" ry="0.91" fill="rgb(79,79,79)" stroke="none"/>
<ellipse cx="56.5" cy="57.5" rx="0.75" ry="0.91" fill="rgb(79,79,79)" stroke="none"/>
<ellipse cx="34.5" cy="58.5" rx="0.75" ry="0.91" fill="rgb(79,79,79)" stroke="none"/>
<ellipse cx="75.5" cy="27.5" rx="0.75" ry="0.91" fill="rgb(79,79,79)" stroke="none"/>
<ellipse cx="52.5" cy="80.5" rx="0.75" ry="0.91" fill="rgb(79,79,79)" stroke="none"/>
<ellipse cx="30.5" cy="38.5" rx="0.75" ry="0.91" fill="rgb(79,79,79)" stroke="none"/>
<line x1="86" y1="60" x2="87" y2="62" stroke="rgb(79,79,79)" stroke-width="1.03"/>
<ellipse cx="62.5" cy="12.5" rx="0.75" ry="0.91" fill="rgb(79,79,79)" stroke="none"/>
</g>
<rect x="64.2" y="83.0" width="18.6" height="1.7" fill="#f4f4f4"/>
</g>
<text x="328.5" y="283.4" font-size="17" font-weight="bold" >H</text>
<text transform="translate(353.8,335.5) rotate(-90)" font-size="10.5" text-anchor="middle">CD31<tspan font-size="7.5" dy="-3.6">+</tspan><tspan dy="3.6"> area (%)</tspan></text>
<line x1="385.5" y1="287.05" x2="385.5" y2="384.25" stroke="#5a5a5a" stroke-width="0.9" />
<line x1="382.1" y1="383.8" x2="385.5" y2="383.8" stroke="#5a5a5a" stroke-width="0.9" />
<text x="381.7" y="387.58" font-size="10.5" text-anchor="end" >0.0</text>
<line x1="382.1" y1="370.04" x2="385.5" y2="370.04" stroke="#5a5a5a" stroke-width="0.9" />
<text x="381.7" y="373.82" font-size="10.5" text-anchor="end" >0.5</text>
<line x1="382.1" y1="356.29" x2="385.5" y2="356.29" stroke="#5a5a5a" stroke-width="0.9" />
<text x="381.7" y="360.07" font-size="10.5" text-anchor="end" >1.0</text>
<line x1="382.1" y1="342.53" x2="385.5" y2="342.53" stroke="#5a5a5a" stroke-width="0.9" />
<text x="381.7" y="346.31" font-size="10.5" text-anchor="end" >1.5</text>
<line x1="382.1" y1="328.77" x2="385.5" y2="328.77" stroke="#5a5a5a" stroke-width="0.9" />
<text x="381.7" y="332.55" font-size="10.5" text-anchor="end" >2.0</text>
<line x1="382.1" y1="315.01" x2="385.5" y2="315.01" stroke="#5a5a5a" stroke-width="0.9" />
<text x="381.7" y="318.79" font-size="10.5" text-anchor="end" >2.5</text>
<line x1="382.1" y1="301.26" x2="385.5" y2="301.26" stroke="#5a5a5a" stroke-width="0.9" />
<text x="381.7" y="305.04" font-size="10.5" text-anchor="end" >3.0</text>
<line x1="382.1" y1="287.5" x2="385.5" y2="287.5" stroke="#5a5a5a" stroke-width="0.9" />
<text x="381.7" y="291.28" font-size="10.5" text-anchor="end" >3.5</text>
<line x1="385.5" y1="383.8" x2="449.5" y2="383.8" stroke="#5a5a5a" stroke-width="0.9" />
<rect x="389.4" y="303" width="14.2" height="80.8" fill="#fff" stroke="#5a5a5a" stroke-width="0.7"/>
<line x1="396.5" y1="298.8" x2="396.5" y2="303" stroke="#5a5a5a" stroke-width="0.9" />
<line x1="393.25" y1="298.8" x2="399.75" y2="298.8" stroke="#5a5a5a" stroke-width="0.9" />
<rect x="411" y="312.5" width="14.2" height="71.3" fill="#6b6b6b" stroke="#5a5a5a" stroke-width="0.7"/>
<line x1="418.1" y1="306.8" x2="418.1" y2="312.5" stroke="#5a5a5a" stroke-width="0.9" />
<line x1="414.85" y1="306.8" x2="421.35" y2="306.8" stroke="#5a5a5a" stroke-width="0.9" />
<rect x="432.6" y="336.2" width="14.2" height="47.6" fill="#000" stroke="#000" stroke-width="0.7"/>
<line x1="439.7" y1="331.8" x2="439.7" y2="336.2" stroke="#5a5a5a" stroke-width="0.9" />
<line x1="436.45" y1="331.8" x2="442.95" y2="331.8" stroke="#5a5a5a" stroke-width="0.9" />
<polyline points="396.2,294.2 396.2,290.5 440.4,290.5 440.4,294.2" fill="none" stroke="#5a5a5a" stroke-width="0.9"/>
<text x="400.5" y="283.8" font-size="10.5" word-spacing="0.9"><tspan font-style="italic">P</tspan> &lt; .01</text>
<rect x="454.7" y="292.9" width="17.3" height="6.2" fill="#fff" stroke="#5a5a5a" stroke-width="0.9"/>
<rect x="454.7" y="307.3" width="17.3" height="6.2" fill="#6e6e6e" stroke="#444" stroke-width="0.9"/>
<rect x="454.7" y="322.8" width="17.3" height="6.2" fill="#000" stroke="#000" stroke-width="0.9"/>
<text x="476.1" y="300" font-size="10.2" >Control</text>
<text x="476.1" y="314.8" font-size="10.2" >20 mg/kg</text>
<text x="476.1" y="329.7" font-size="10.2" >80 mg/kg</text>
<text x="0.4" y="419.6" font-size="17" font-weight="bold" >I</text>
<text x="105.4" y="419.5" font-size="10.2" text-anchor="middle" >3LL</text>
<text transform="translate(25.8,483) rotate(-90)" font-size="10.5" text-anchor="middle">Tumor volume (mm <tspan font-size="7.5" dy="-3.6">3</tspan><tspan dy="3.6">)</tspan></text>
<line x1="57.5" y1="434.55" x2="57.5" y2="532.25" stroke="#5a5a5a" stroke-width="0.9" />
<line x1="54.1" y1="531.8" x2="57.5" y2="531.8" stroke="#5a5a5a" stroke-width="0.9" />
<text x="52.6" y="535.58" font-size="10.5" text-anchor="end" >0</text>
<line x1="54.1" y1="517.97" x2="57.5" y2="517.97" stroke="#5a5a5a" stroke-width="0.9" />
<text x="52.6" y="521.75" font-size="10.5" text-anchor="end" >100</text>
<line x1="54.1" y1="504.14" x2="57.5" y2="504.14" stroke="#5a5a5a" stroke-width="0.9" />
<text x="52.6" y="507.92" font-size="10.5" text-anchor="end" >200</text>
<line x1="54.1" y1="490.31" x2="57.5" y2="490.31" stroke="#5a5a5a" stroke-width="0.9" />
<text x="52.6" y="494.09" font-size="10.5" text-anchor="end" >300</text>
<line x1="54.1" y1="476.49" x2="57.5" y2="476.49" stroke="#5a5a5a" stroke-width="0.9" />
<text x="52.6" y="480.27" font-size="10.5" text-anchor="end" >400</text>
<line x1="54.1" y1="462.66" x2="57.5" y2="462.66" stroke="#5a5a5a" stroke-width="0.9" />
<text x="52.6" y="466.44" font-size="10.5" text-anchor="end" >500</text>
<line x1="54.1" y1="448.83" x2="57.5" y2="448.83" stroke="#5a5a5a" stroke-width="0.9" />
<text x="52.6" y="452.61" font-size="10.5" text-anchor="end" >600</text>
<line x1="54.1" y1="435" x2="57.5" y2="435" stroke="#5a5a5a" stroke-width="0.9" />
<text x="52.6" y="438.78" font-size="10.5" text-anchor="end" >700</text>
<line x1="57.05" y1="531.8" x2="155" y2="531.8" stroke="#5a5a5a" stroke-width="0.9" />
<line x1="57.5" y1="531.8" x2="57.5" y2="535" stroke="#5a5a5a" stroke-width="0.9" />
<text x="57.5" y="546.4" font-size="10.8" text-anchor="middle" >0</text>
<line x1="76.91" y1="531.8" x2="76.91" y2="535" stroke="#5a5a5a" stroke-width="0.9" />
<text x="76.91" y="546.4" font-size="10.8" text-anchor="middle" >3</text>
<line x1="96.32" y1="531.8" x2="96.32" y2="535" stroke="#5a5a5a" stroke-width="0.9" />
<text x="96.32" y="546.4" font-size="10.8" text-anchor="middle" >6</text>
<line x1="115.73" y1="531.8" x2="115.73" y2="535" stroke="#5a5a5a" stroke-width="0.9" />
<text x="115.73" y="546.4" font-size="10.8" text-anchor="middle" >9</text>
<line x1="135.14" y1="531.8" x2="135.14" y2="535" stroke="#5a5a5a" stroke-width="0.9" />
<text x="135.14" y="546.4" font-size="10.8" text-anchor="middle" >12</text>
<line x1="154.55" y1="531.8" x2="154.55" y2="535" stroke="#5a5a5a" stroke-width="0.9" />
<text x="154.55" y="546.4" font-size="10.8" text-anchor="middle" >15</text>
<text x="105.53" y="559.8" font-size="10.5" text-anchor="middle" >Time (days)</text>
<polyline points="63.97,531.8 76.91,531.8 89.85,531.8 102.79,529.31 115.73,522.67 128.67,513.82 148.08,467.5" fill="none" stroke="#444" stroke-width="0.7"/>
<polyline points="63.97,531.8 76.91,531.8 89.85,531.8 102.79,528.76 115.73,518.94 128.67,511.06 148.08,455.47" fill="none" stroke="#444" stroke-width="0.7"/>
<line x1="148.08" y1="455.47" x2="148.08" y2="447.45" stroke="#666" stroke-width="0.9" />
<line x1="145.48" y1="447.45" x2="150.68" y2="447.45" stroke="#666" stroke-width="0.9" />
<polyline points="63.97,531.8 76.91,531.8 89.85,531.8 102.79,528.76 115.73,520.05 128.67,512.99 148.08,459.89" fill="none" stroke="#444" stroke-width="0.7"/>
<rect x="100.19" y="526.71" width="5.2" height="5.2" fill="#000"/>
<rect x="113.13" y="520.07" width="5.2" height="5.2" fill="#000"/>
<rect x="126.07" y="511.22" width="5.2" height="5.2" fill="#000"/>
<rect x="145.48" y="464.9" width="5.2" height="5.2" fill="#000"/>
<rect x="100.29" y="526.26" width="5" height="5" fill="#6e6e6e" stroke="#444" stroke-width="0.6"/>
<rect x="113.23" y="516.44" width="5" height="5" fill="#6e6e6e" stroke="#444" stroke-width="0.6"/>
<rect x="126.17" y="508.56" width="5" height="5" fill="#6e6e6e" stroke="#444" stroke-width="0.6"/>
<rect x="145.58" y="452.97" width="5" height="5" fill="#6e6e6e" stroke="#444" stroke-width="0.6"/>
<rect x="61.77" y="528.2" width="4.4" height="3.4" fill="#fff" stroke="#808080" stroke-width="0.75"/>
<rect x="74.71" y="528.2" width="4.4" height="3.4" fill="#fff" stroke="#808080" stroke-width="0.75"/>
<rect x="87.65" y="528.2" width="4.4" height="3.4" fill="#fff" stroke="#808080" stroke-width="0.75"/>
<rect x="100.39" y="526.36" width="4.8" height="4.8" fill="#fff" stroke="#666" stroke-width="0.8"/>
<rect x="113.33" y="517.65" width="4.8" height="4.8" fill="#fff" stroke="#666" stroke-width="0.8"/>
<rect x="126.27" y="510.59" width="4.8" height="4.8" fill="#fff" stroke="#666" stroke-width="0.8"/>
<rect x="145.68" y="457.49" width="4.8" height="4.8" fill="#fff" stroke="#666" stroke-width="0.8"/>
<line x1="65.6" y1="441.3" x2="84.2" y2="441.3" stroke="#666" stroke-width="0.7" />
<rect x="72.6" y="438.9" width="4.8" height="4.8" fill="#fff" stroke="#666" stroke-width="0.8"/>
<text x="86.9" y="444.9" font-size="10.2" >Control</text>
<line x1="65.6" y1="455.9" x2="84.2" y2="455.9" stroke="#666" stroke-width="0.7" />
<rect x="72.5" y="453.4" width="5" height="5" fill="#6e6e6e" stroke="#444" stroke-width="0.6"/>
<text x="86.9" y="459.5" font-size="10.2" >20 mg/kg</text>
<line x1="65.6" y1="470.5" x2="84.2" y2="470.5" stroke="#666" stroke-width="0.7" />
<rect x="72.4" y="467.9" width="5.2" height="5.2" fill="#000"/>
<text x="86.9" y="474.1" font-size="10.2" >80 mg/kg</text>
<text x="166.1" y="419.6" font-size="17" font-weight="bold" >J</text>
<text x="271.2" y="419.5" font-size="10.2" text-anchor="middle" >3LL</text>
<text transform="translate(190,483) rotate(-90)" font-size="10.5" text-anchor="middle">Tumor volume (mm <tspan font-size="7.5" dy="-3.6">3</tspan><tspan dy="3.6">)</tspan></text>
<line x1="222.5" y1="434.55" x2="222.5" y2="532.25" stroke="#5a5a5a" stroke-width="0.9" />
<line x1="219.1" y1="531.8" x2="222.5" y2="531.8" stroke="#5a5a5a" stroke-width="0.9" />
<text x="217.6" y="535.58" font-size="10.5" text-anchor="end" >0</text>
<line x1="219.1" y1="517.97" x2="222.5" y2="517.97" stroke="#5a5a5a" stroke-width="0.9" />
<text x="217.6" y="521.75" font-size="10.5" text-anchor="end" >100</text>
<line x1="219.1" y1="504.14" x2="222.5" y2="504.14" stroke="#5a5a5a" stroke-width="0.9" />
<text x="217.6" y="507.92" font-size="10.5" text-anchor="end" >200</text>
<line x1="219.1" y1="490.31" x2="222.5" y2="490.31" stroke="#5a5a5a" stroke-width="0.9" />
<text x="217.6" y="494.09" font-size="10.5" text-anchor="end" >300</text>
<line x1="219.1" y1="476.49" x2="222.5" y2="476.49" stroke="#5a5a5a" stroke-width="0.9" />
<text x="217.6" y="480.27" font-size="10.5" text-anchor="end" >400</text>
<line x1="219.1" y1="462.66" x2="222.5" y2="462.66" stroke="#5a5a5a" stroke-width="0.9" />
<text x="217.6" y="466.44" font-size="10.5" text-anchor="end" >500</text>
<line x1="219.1" y1="448.83" x2="222.5" y2="448.83" stroke="#5a5a5a" stroke-width="0.9" />
<text x="217.6" y="452.61" font-size="10.5" text-anchor="end" >600</text>
<line x1="219.1" y1="435" x2="222.5" y2="435" stroke="#5a5a5a" stroke-width="0.9" />
<text x="217.6" y="438.78" font-size="10.5" text-anchor="end" >700</text>
<line x1="222.05" y1="531.8" x2="320" y2="531.8" stroke="#5a5a5a" stroke-width="0.9" />
<line x1="222.5" y1="531.8" x2="222.5" y2="535" stroke="#5a5a5a" stroke-width="0.9" />
<text x="222.5" y="546.4" font-size="10.8" text-anchor="middle" >0</text>
<line x1="241.91" y1="531.8" x2="241.91" y2="535" stroke="#5a5a5a" stroke-width="0.9" />
<text x="241.91" y="546.4" font-size="10.8" text-anchor="middle" >3</text>
<line x1="261.32" y1="531.8" x2="261.32" y2="535" stroke="#5a5a5a" stroke-width="0.9" />
<text x="261.32" y="546.4" font-size="10.8" text-anchor="middle" >6</text>
<line x1="280.73" y1="531.8" x2="280.73" y2="535" stroke="#5a5a5a" stroke-width="0.9" />
<text x="280.73" y="546.4" font-size="10.8" text-anchor="middle" >9</text>
<line x1="300.14" y1="531.8" x2="300.14" y2="535" stroke="#5a5a5a" stroke-width="0.9" />
<text x="300.14" y="546.4" font-size="10.8" text-anchor="middle" >12</text>
<line x1="319.55" y1="531.8" x2="319.55" y2="535" stroke="#5a5a5a" stroke-width="0.9" />
<text x="319.55" y="546.4" font-size="10.8" text-anchor="middle" >15</text>
<text x="270.52" y="559.8" font-size="10.5" text-anchor="middle" >Time (days)</text>
<polyline points="228.97,531.8 241.91,531.8 254.85,531.8 267.79,529.59 280.73,521.29 293.67,504.28 313.08,468.74" fill="none" stroke="#444" stroke-width="0.7"/>
<polyline points="228.97,531.8 241.91,531.8 254.85,531.8 267.79,529.03 280.73,517.56 293.67,500.55 313.08,465.01" fill="none" stroke="#444" stroke-width="0.7"/>
<line x1="313.08" y1="465.01" x2="313.08" y2="459.89" stroke="#666" stroke-width="0.9" />
<line x1="310.48" y1="459.89" x2="315.68" y2="459.89" stroke="#666" stroke-width="0.9" />
<circle cx="267.79" cy="529.59" r="2.5" fill="#000"/>
<circle cx="280.73" cy="521.29" r="2.5" fill="#000"/>
<circle cx="293.67" cy="504.28" r="2.5" fill="#000"/>
<circle cx="313.08" cy="468.74" r="2.5" fill="#000"/>
<rect x="226.77" y="528.2" width="4.4" height="3.4" fill="#fff" stroke="#808080" stroke-width="0.75"/>
<rect x="239.71" y="528.2" width="4.4" height="3.4" fill="#fff" stroke="#808080" stroke-width="0.75"/>
<rect x="252.65" y="528.2" width="4.4" height="3.4" fill="#fff" stroke="#808080" stroke-width="0.75"/>
<rect x="265.39" y="526.63" width="4.8" height="4.8" fill="#fff" stroke="#666" stroke-width="0.8"/>
<rect x="278.33" y="515.16" width="4.8" height="4.8" fill="#fff" stroke="#666" stroke-width="0.8"/>
<rect x="291.27" y="498.15" width="4.8" height="4.8" fill="#fff" stroke="#666" stroke-width="0.8"/>
<rect x="310.68" y="462.61" width="4.8" height="4.8" fill="#fff" stroke="#666" stroke-width="0.8"/>
<line x1="230.6" y1="441.3" x2="249.2" y2="441.3" stroke="#666" stroke-width="0.7" />
<rect x="237.6" y="438.9" width="4.8" height="4.8" fill="#fff" stroke="#666" stroke-width="0.8"/>
<text x="251.9" y="444.9" font-size="10.2" >Control</text>
<line x1="230.6" y1="455.9" x2="249.2" y2="455.9" stroke="#666" stroke-width="0.7" />
<circle cx="240" cy="455.9" r="2.5" fill="#000"/>
<text x="251.9" y="459.5" font-size="10.2" >160 mg/kg</text>
<text x="326.9" y="419.6" font-size="17" font-weight="bold" >K</text>
<text x="432.8" y="419.5" font-size="10.2" text-anchor="middle" >B16F1</text>
<text transform="translate(353.8,483) rotate(-90)" font-size="10.5" text-anchor="middle">Tumor volume (mm <tspan font-size="7.5" dy="-3.6">3</tspan><tspan dy="3.6">)</tspan></text>
<line x1="385.5" y1="434.55" x2="385.5" y2="532.25" stroke="#5a5a5a" stroke-width="0.9" />
<line x1="382.1" y1="531.8" x2="385.5" y2="531.8" stroke="#5a5a5a" stroke-width="0.9" />
<text x="380.6" y="535.58" font-size="10.5" text-anchor="end" >0</text>
<line x1="382.1" y1="517.97" x2="385.5" y2="517.97" stroke="#5a5a5a" stroke-width="0.9" />
<text x="380.6" y="521.75" font-size="10.5" text-anchor="end" >100</text>
<line x1="382.1" y1="504.14" x2="385.5" y2="504.14" stroke="#5a5a5a" stroke-width="0.9" />
<text x="380.6" y="507.92" font-size="10.5" text-anchor="end" >200</text>
<line x1="382.1" y1="490.31" x2="385.5" y2="490.31" stroke="#5a5a5a" stroke-width="0.9" />
<text x="380.6" y="494.09" font-size="10.5" text-anchor="end" >300</text>
<line x1="382.1" y1="476.49" x2="385.5" y2="476.49" stroke="#5a5a5a" stroke-width="0.9" />
<text x="380.6" y="480.27" font-size="10.5" text-anchor="end" >400</text>
<line x1="382.1" y1="462.66" x2="385.5" y2="462.66" stroke="#5a5a5a" stroke-width="0.9" />
<text x="380.6" y="466.44" font-size="10.5" text-anchor="end" >500</text>
<line x1="382.1" y1="448.83" x2="385.5" y2="448.83" stroke="#5a5a5a" stroke-width="0.9" />
<text x="380.6" y="452.61" font-size="10.5" text-anchor="end" >600</text>
<line x1="382.1" y1="435" x2="385.5" y2="435" stroke="#5a5a5a" stroke-width="0.9" />
<text x="380.6" y="438.78" font-size="10.5" text-anchor="end" >700</text>
<line x1="385.05" y1="531.8" x2="482.55" y2="531.8" stroke="#5a5a5a" stroke-width="0.9" />
<line x1="385.5" y1="531.8" x2="385.5" y2="535" stroke="#5a5a5a" stroke-width="0.9" />
<text x="385.5" y="546.4" font-size="10.8" text-anchor="middle" >0</text>
<line x1="399.3" y1="531.8" x2="399.3" y2="535" stroke="#5a5a5a" stroke-width="0.9" />
<text x="399.3" y="546.4" font-size="10.8" text-anchor="middle" >3</text>
<line x1="413.1" y1="531.8" x2="413.1" y2="535" stroke="#5a5a5a" stroke-width="0.9" />
<text x="413.1" y="546.4" font-size="10.8" text-anchor="middle" >6</text>
<line x1="426.9" y1="531.8" x2="426.9" y2="535" stroke="#5a5a5a" stroke-width="0.9" />
<text x="426.9" y="546.4" font-size="10.8" text-anchor="middle" >9</text>
<line x1="440.7" y1="531.8" x2="440.7" y2="535" stroke="#5a5a5a" stroke-width="0.9" />
<text x="440.7" y="546.4" font-size="10.8" text-anchor="middle" >12</text>
<line x1="454.5" y1="531.8" x2="454.5" y2="535" stroke="#5a5a5a" stroke-width="0.9" />
<text x="454.5" y="546.4" font-size="10.8" text-anchor="middle" >15</text>
<line x1="468.3" y1="531.8" x2="468.3" y2="535" stroke="#5a5a5a" stroke-width="0.9" />
<text x="468.3" y="546.4" font-size="10.8" text-anchor="middle" >18</text>
<line x1="482.1" y1="531.8" x2="482.1" y2="535" stroke="#5a5a5a" stroke-width="0.9" />
<text x="482.1" y="546.4" font-size="10.8" text-anchor="middle" >21</text>
<text x="433.3" y="559.8" font-size="10.5" text-anchor="middle" >Time (days)</text>
<polyline points="390.1,531.8 399.3,531.8 408.5,531.8 417.7,531.8 426.9,531.52 436.1,529.03 454.5,520.46 463.7,498.06 472.9,462.93" fill="none" stroke="#444" stroke-width="0.7"/>
<line x1="472.9" y1="462.93" x2="472.9" y2="458.51" stroke="#666" stroke-width="0.9" />
<line x1="470.3" y1="458.51" x2="475.5" y2="458.51" stroke="#666" stroke-width="0.9" />
<polyline points="390.1,531.8 399.3,531.8 408.5,531.8 417.7,531.8 426.9,530.69 436.1,530.14 454.5,524.89 463.7,506.77 472.9,471.78" fill="none" stroke="#444" stroke-width="0.7"/>
<circle cx="436.1" cy="529.03" r="2.5" fill="#000"/>
<circle cx="454.5" cy="520.46" r="2.5" fill="#000"/>
<circle cx="463.7" cy="498.06" r="2.5" fill="#000"/>
<circle cx="472.9" cy="462.93" r="2.5" fill="#000"/>
<rect x="387.9" y="528.2" width="4.4" height="3.4" fill="#fff" stroke="#808080" stroke-width="0.75"/>
<rect x="397.1" y="528.2" width="4.4" height="3.4" fill="#fff" stroke="#808080" stroke-width="0.75"/>
<rect x="406.3" y="528.2" width="4.4" height="3.4" fill="#fff" stroke="#808080" stroke-width="0.75"/>
<rect x="415.5" y="528.2" width="4.4" height="3.4" fill="#fff" stroke="#808080" stroke-width="0.75"/>
<rect x="424.5" y="528.29" width="4.8" height="4.8" fill="#fff" stroke="#666" stroke-width="0.8"/>
<rect x="433.7" y="527.74" width="4.8" height="4.8" fill="#fff" stroke="#666" stroke-width="0.8"/>
<rect x="452.1" y="522.49" width="4.8" height="4.8" fill="#fff" stroke="#666" stroke-width="0.8"/>
<rect x="461.3" y="504.37" width="4.8" height="4.8" fill="#fff" stroke="#666" stroke-width="0.8"/>
<rect x="470.5" y="469.38" width="4.8" height="4.8" fill="#fff" stroke="#666" stroke-width="0.8"/>
<line x1="394.2" y1="441.3" x2="412.8" y2="441.3" stroke="#666" stroke-width="0.7" />
<rect x="401.2" y="438.9" width="4.8" height="4.8" fill="#fff" stroke="#666" stroke-width="0.8"/>
<text x="415.5" y="444.9" font-size="10.2" >Control</text>
<line x1="394.2" y1="455.9" x2="412.8" y2="455.9" stroke="#666" stroke-width="0.7" />
<circle cx="403.6" cy="455.9" r="2.5" fill="#000"/>
<text x="415.5" y="459.5" font-size="10.2" >160 mg/kg</text>
</svg></body></html>
